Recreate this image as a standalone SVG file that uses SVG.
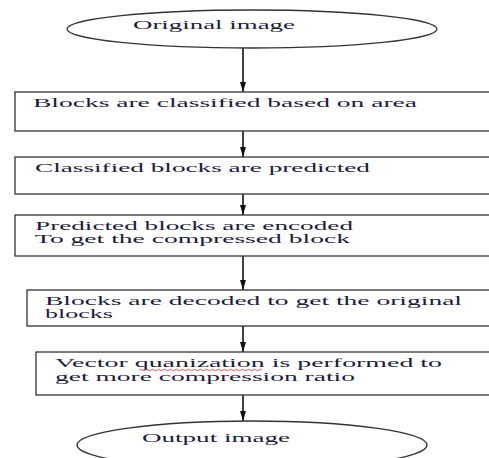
<svg xmlns="http://www.w3.org/2000/svg" width="489" height="458" viewBox="0 0 489 458">
<style>
.bg{fill:#fff}
.node{fill:#fff;stroke:#333;stroke-width:1.3}
.t{font-family:"Liberation Serif","DejaVu Serif","Times New Roman",serif;font-size:12.5px;fill:#1c1c3a}
.c{stroke:#111;stroke-width:1.6;fill:none}
</style>
<defs>
<marker id="ah" markerWidth="10" markerHeight="6" refX="10" refY="3" orient="auto" markerUnits="userSpaceOnUse">
<path d="M0,0 L10,3 L0,6 Z" fill="#111"/>
</marker>
</defs>
<rect class="bg" x="0" y="0" width="489" height="458"/>
<g id="connectors">
<line class="c" x1="243" y1="48" x2="243" y2="92" marker-end="url(#ah)"/>
<line class="c" x1="243" y1="131" x2="243" y2="157" marker-end="url(#ah)"/>
<line class="c" x1="243" y1="194" x2="243" y2="215" marker-end="url(#ah)"/>
<line class="c" x1="243" y1="256" x2="243" y2="290" marker-end="url(#ah)"/>
<line class="c" x1="243" y1="326" x2="243" y2="352" marker-end="url(#ah)"/>
<line class="c" x1="243" y1="395" x2="243" y2="421" marker-end="url(#ah)"/>
</g>
<g id="start">
<ellipse class="node" cx="252" cy="29" rx="185" ry="19"/>
<text class="t" x="133" y="29" textLength="162" lengthAdjust="spacingAndGlyphs">Original image</text>
</g>
<g id="step1">
<rect class="node" x="15" y="92" width="490" height="39"/>
<text class="t" x="33" y="107" textLength="384" lengthAdjust="spacingAndGlyphs">Blocks are classified based  on area</text>
</g>
<g id="step2">
<rect class="node" x="15" y="157" width="490" height="37"/>
<text class="t" x="35" y="172" textLength="335" lengthAdjust="spacingAndGlyphs">Classified blocks are predicted</text>
</g>
<g id="step3">
<rect class="node" x="15" y="215" width="490" height="41"/>
<text class="t" x="35" y="230" textLength="318" lengthAdjust="spacingAndGlyphs">Predicted blocks are encoded</text>
<text class="t" x="35" y="243" textLength="315" lengthAdjust="spacingAndGlyphs">To get the compressed  block</text>
</g>
<g id="step4">
<rect class="node" x="27" y="290" width="480" height="36"/>
<text class="t" x="45" y="305" textLength="417" lengthAdjust="spacingAndGlyphs">Blocks are decoded to get the original</text>
<text class="t" x="45" y="318" textLength="68" lengthAdjust="spacingAndGlyphs">blocks</text>
</g>
<g id="step5">
<rect class="node" x="36" y="352" width="470" height="43"/>
<text class="t" x="55" y="367" textLength="387" lengthAdjust="spacingAndGlyphs">Vector quanization is performed  to</text>
<text class="t" x="55" y="381" textLength="300" lengthAdjust="spacingAndGlyphs">get more compression  ratio</text>
<path d="M139,370 q1.5,-1.5 3,0 t3,0 t3,0 t3,0 t3,0 t3,0 t3,0 t3,0 t3,0 t3,0 t3,0 t3,0 t3,0 t3,0 t3,0 t3,0 t3,0 t3,0 t3,0 t3,0 t3,0 t3,0 t3,0 t3,0 t3,0 t3,0 t3,0 t3,0 t3,0 t3,0 t3,0 t3,0 t3,0 t3,0 t3,0 t3,0 t3,0 t3,0 t3,0 t3,0 t3,0" fill="none" stroke="#e03030" stroke-width="0.8"/>
</g>
<g id="end">
<ellipse class="node" cx="252" cy="445" rx="175" ry="24"/>
<text class="t" x="142" y="442" textLength="148" lengthAdjust="spacingAndGlyphs">Output image</text>
</g>
</svg>
